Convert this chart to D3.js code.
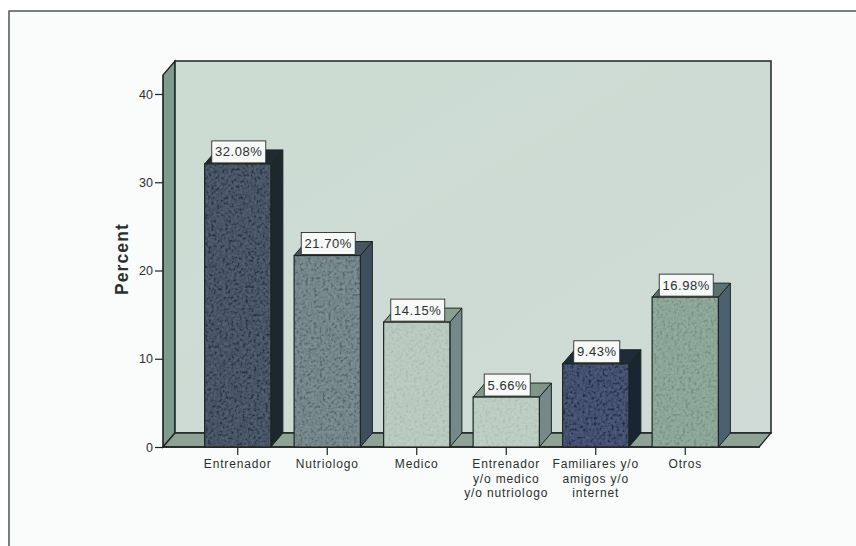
<!DOCTYPE html>
<html>
<head>
<meta charset="utf-8">
<script src="https://cdn.jsdelivr.net/npm/d3@7/dist/d3.min.js"></script>
<style>
  html, body { margin: 0; padding: 0; background: #ffffff; }
  svg { display: block; }
  text { font-family: "Liberation Sans", Arial, sans-serif; fill: #2b2f2e; }
</style>
</head>
<body>
<svg id="chart" width="856" height="546"></svg>
<script>
// Source of advice, share of respondents
const categories = ["Entrenador", "Nutriologo", "Medico", "Entrenador y/o medico y/o nutriologo", "Familiares y/o amigos y/o internet", "Otros"];
const categoryLines = [["Entrenador"], ["Nutriologo"], ["Medico"], ["Entrenador", "y/o medico", "y/o nutriologo"], ["Familiares y/o", "amigos y/o", "internet"], ["Otros"]];
const percents = [32.08, 21.70, 14.15, 5.66, 9.43, 16.98];
const percentLabels = ["32.08%", "21.70%", "14.15%", "5.66%", "9.43%", "16.98%"];
const yTicks = [0, 10, 20, 30, 40];
const frontColors = ["#2f4054", "#687c82", "#b8cbbf", "#bccfc3", "#2c3b5e", "#86a493"];
const sideColors = ["#1c282c", "#3e4e5c", "#75898a", "#75898a", "#1a2532", "#4c6170"];
const topColors = ["#1f2b33", "#46565f", "#8aa090", "#7f9688", "#1f2b38", "#5b7272"];
const grainOpacity = [0.16, 0.15, 0.06, 0.06, 0.16, 0.1];

const svg = d3.select("#chart");
const depthX = 12, depthY = 14;

const y = d3.scaleLinear().domain([0, 40]).range([447, 94]);
const x = d3.scaleBand().domain(categories).range([193, 730]).paddingInner(0.26).paddingOuter(0.13);
const yTop = y.invert(75);
const floorLeft = 163, floorRight = 760;
const stroke = "#1d2422";

// Print-like grain laid over the bar faces
const defs = svg.append("defs");
const grain = defs.append("filter").attr("id", "grain").attr("x", 0).attr("y", 0).attr("width", 1).attr("height", 1);
grain.append("feTurbulence").attr("type", "fractalNoise").attr("baseFrequency", 0.35).attr("numOctaves", 2).attr("seed", 4).attr("result", "n");
grain.append("feColorMatrix").attr("in", "n").attr("type", "matrix")
  .attr("values", "2.4 0 0 0 -0.7  2.4 0 0 0 -0.7  2.4 0 0 0 -0.7  0 0 0 0 1");

const wallGrad = defs.append("linearGradient").attr("id", "wall").attr("x1", 0).attr("y1", 0).attr("x2", 1).attr("y2", 1);
wallGrad.append("stop").attr("offset", "0%").attr("stop-color", "#cbdcd2");
wallGrad.append("stop").attr("offset", "100%").attr("stop-color", "#d0dad6");

// Outer frame, open towards the right and bottom of the page
svg.append("rect").attr("x", 9).attr("y", 11).attr("width", 860).attr("height", 550)
  .attr("fill", "#f9fcfb").attr("stroke", "#5a605e").attr("stroke-width", 1.6);

const poly = pts => pts.map(p => p.join(",")).join(" ");

// Left wall, back wall and floor
svg.append("polygon")
  .attr("points", poly([[floorLeft, y(yTop)], [floorLeft + depthX, y(yTop) - depthY], [floorLeft + depthX, y(0) - depthY], [floorLeft, y(0)]]))
  .attr("fill", "#7f9b8e").attr("stroke", stroke).attr("stroke-width", 1.3);
svg.append("rect")
  .attr("x", floorLeft + depthX).attr("y", y(yTop) - depthY)
  .attr("width", floorRight - floorLeft - 1).attr("height", y(0) - y(yTop))
  .attr("fill", "url(#wall)").attr("stroke", stroke).attr("stroke-width", 1.5);
svg.append("polygon")
  .attr("points", poly([[floorLeft, y(0)], [floorLeft + depthX, y(0) - depthY], [floorRight + depthX - 1, y(0) - depthY], [floorRight - 1, y(0)]]))
  .attr("fill", "#8ea296").attr("stroke", stroke).attr("stroke-width", 1.3);

// Value axis
const yAxis = svg.append("g").attr("transform", `translate(${floorLeft},0)`)
  .call(d3.axisLeft(y).tickValues(yTicks).tickSize(8).tickPadding(2).tickFormat(d3.format("d")));
yAxis.select(".domain").attr("stroke", stroke).attr("d", `M0,${y(yTop)}V${y(0)}`);
yAxis.selectAll(".tick line").attr("stroke", stroke).attr("stroke-width", 1.2);
yAxis.selectAll(".tick text").attr("font-size", 12.5).style("font-family", '"Liberation Sans", Arial, sans-serif').attr("fill", "#2b2f2e");

svg.append("text")
  .attr("transform", `translate(128,${y(21.3)}) rotate(-90)`)
  .attr("text-anchor", "middle").attr("font-size", 17.5).attr("font-weight", "bold")
  .attr("fill", "#1e2322").attr("letter-spacing", 1.1).text("Percent");

// Category axis
const xAxis = svg.append("g").attr("transform", `translate(0,${y(0)})`)
  .call(d3.axisBottom(x).tickSize(8).tickFormat(""));
xAxis.select(".domain").attr("stroke", stroke).attr("stroke-width", 1.4).attr("d", `M${floorLeft},0H${floorRight}`);
xAxis.selectAll(".tick line").attr("stroke", stroke).attr("stroke-width", 1.2);

const catLabels = svg.append("g").attr("font-size", 12).attr("text-anchor", "middle").attr("letter-spacing", 0.85);
categories.forEach((c, i) => {
  categoryLines[i].forEach((line, j) => {
    catLabels.append("text")
      .attr("x", x(c) + x.bandwidth() / 2)
      .attr("y", 468 + j * 14.7)
      .text(line);
  });
});

// Extruded bars
const bars = svg.append("g").selectAll("g").data(categories).join("g");
bars.each(function (c, i) {
  const g = d3.select(this);
  const l = x(c), r = l + x.bandwidth(), t = y(percents[i]), b = y(0);
  g.append("polygon")
    .attr("points", poly([[r, t], [r + depthX, t - depthY], [r + depthX, b - depthY], [r, b]]))
    .attr("fill", sideColors[i]).attr("stroke", stroke).attr("stroke-width", 1);
  g.append("polygon")
    .attr("points", poly([[l, t], [l + depthX, t - depthY], [r + depthX, t - depthY], [r, t]]))
    .attr("fill", topColors[i]).attr("stroke", stroke).attr("stroke-width", 1);
  g.append("rect")
    .attr("x", l).attr("y", t).attr("width", r - l).attr("height", b - t)
    .attr("fill", frontColors[i]);
  g.append("rect")
    .attr("x", l).attr("y", t).attr("width", r - l).attr("height", b - t)
    .attr("filter", "url(#grain)").attr("opacity", grainOpacity[i]);
  g.append("rect")
    .attr("x", l).attr("y", t).attr("width", r - l).attr("height", b - t)
    .attr("fill", "none").attr("stroke", stroke).attr("stroke-width", 1.2);
});

// Value labels in white boxes above each bar
const labels = svg.append("g").selectAll("g").data(categories).join("g");
labels.each(function (c, i) {
  const g = d3.select(this);
  const cx = x(c) + x.bandwidth() / 2;
  const t = y(percents[i]);
  const w = percentLabels[i].length > 5 ? 54 : 46;
  g.append("rect")
    .attr("x", cx - w / 2 + 1).attr("y", t - 23).attr("width", w).attr("height", 22)
    .attr("fill", "#f6f9f7").attr("stroke", "#2a302e").attr("stroke-width", 0.9);
  g.append("text")
    .attr("x", cx + 1).attr("y", t - 7.5)
    .attr("text-anchor", "middle").attr("font-size", 13).attr("letter-spacing", 0.55).text(percentLabels[i]);
});
</script>
</body>
</html>
